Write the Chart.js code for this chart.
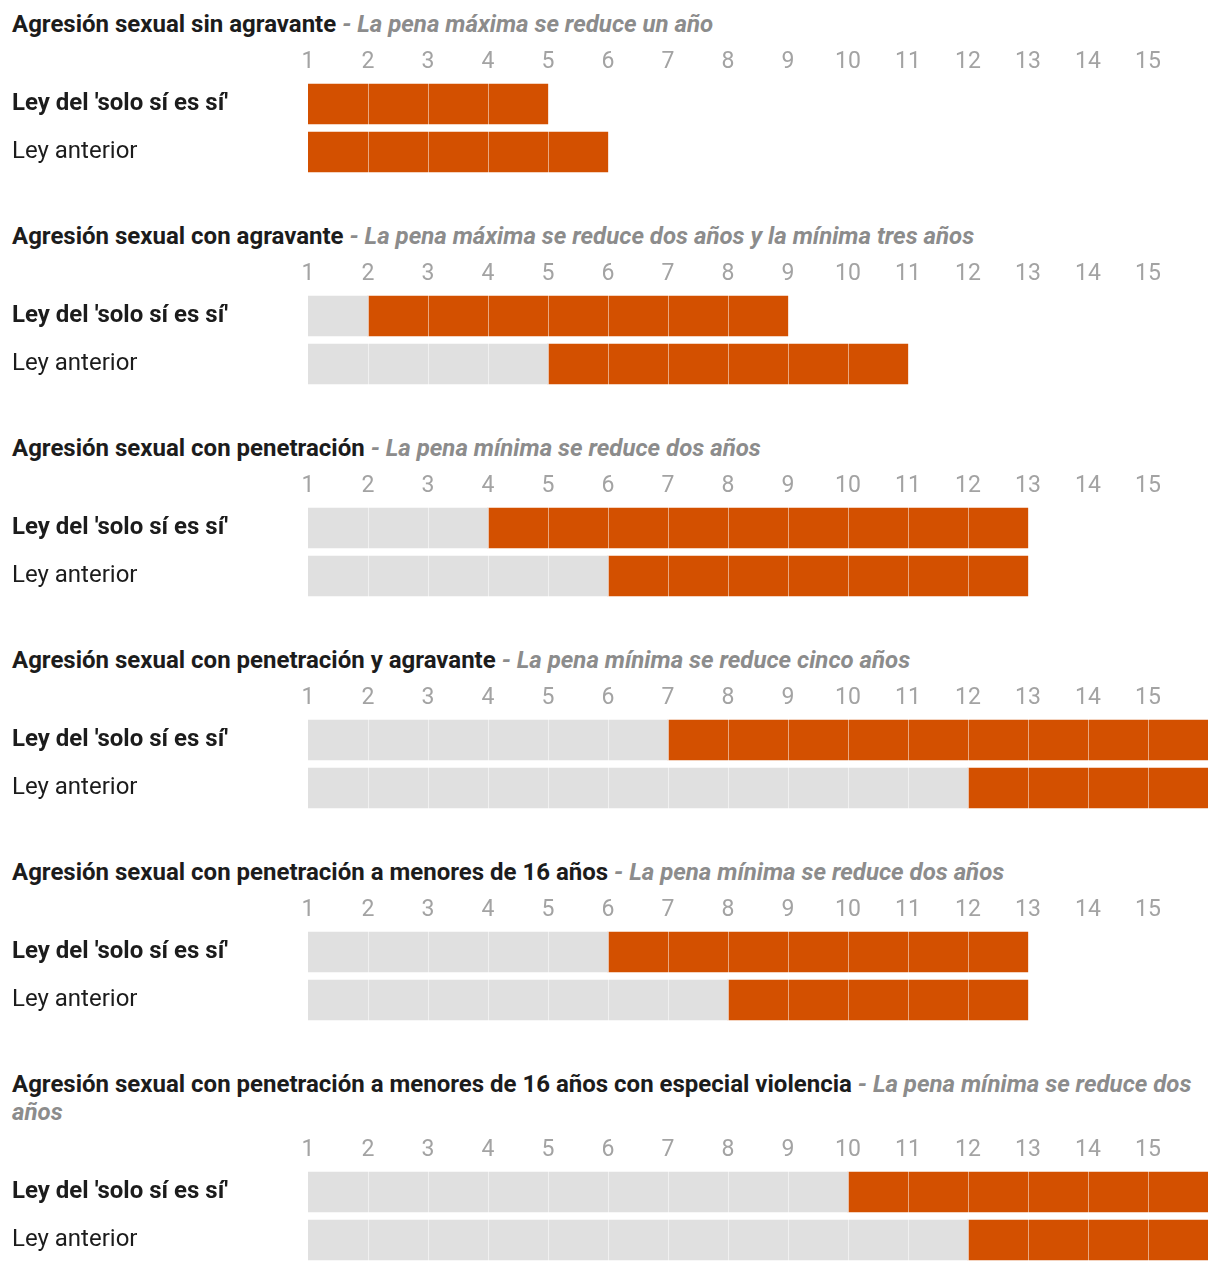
<!DOCTYPE html>
<html>
<head>
<meta charset="utf-8">
<script src="https://cdn.jsdelivr.net/npm/chart.js@4/dist/chart.umd.min.js"></script>
<style>
  html, body { margin: 0; padding: 0; background: #fff; overflow: hidden; }
  body { width: 1220px; height: 1270px; font-family: Roboto, "Noto Sans", sans-serif; }
  #wrap { padding-top: 10px; }
  .title { width: 1196px; padding-left: 12px; font-size: 24px; line-height: 28px; font-weight: bold; color: #1c1c1c; }
  .title .note { font-style: italic; color: #8c8c8c; }
  canvas { display: block; }
</style>
</head>
<body>
<div id="wrap"></div>
<script>
// ---- data ----
const panelTitles = [
  "Agresión sexual sin agravante",
  "Agresión sexual con agravante",
  "Agresión sexual con penetración",
  "Agresión sexual con penetración y agravante",
  "Agresión sexual con penetración a menores de 16 años",
  "Agresión sexual con penetración a menores de 16 años con especial violencia"
];
const panelNotes = [
  "La pena máxima se reduce un año",
  "La pena máxima se reduce dos años y la mínima tres años",
  "La pena mínima se reduce dos años",
  "La pena mínima se reduce cinco años",
  "La pena mínima se reduce dos años",
  "La pena mínima se reduce dos años"
];
const rowLabels = ["Ley del 'solo sí es sí'", "Ley anterior"];
const yearTicks = [1, 2, 3, 4, 5, 6, 7, 8, 9, 10, 11, 12, 13, 14, 15];
const axisStart = 1;
const axisEnd = 16;
// start of the orange range and end of the orange range, per panel
const soloStart = [1, 2, 4, 7, 6, 10];
const soloEnd = [5, 9, 13, 16, 13, 16];
const anteriorStart = [1, 5, 6, 12, 8, 12];
const anteriorEnd = [6, 11, 13, 16, 13, 16];

// ---- styles ----
const ORANGE = '#d35000';
const GRAY = '#e0e0e0';
const wrap = document.getElementById('wrap');

panelTitles.forEach((t, i) => {
  const title = document.createElement('div');
  title.className = 'title';
  title.appendChild(document.createTextNode(t + ' '));
  const note = document.createElement('span');
  note.className = 'note';
  note.textContent = '- ' + panelNotes[i];
  title.appendChild(note);
  wrap.appendChild(title);

  const canvas = document.createElement('canvas');
  canvas.width = 1220;
  canvas.height = 184;
  canvas.style.width = '1220px';
  canvas.style.height = '184px';
  wrap.appendChild(canvas);

  const grayData = [
    soloStart[i] > axisStart ? [axisStart, soloStart[i]] : null,
    anteriorStart[i] > axisStart ? [axisStart, anteriorStart[i]] : null
  ];
  const orangeData = [
    [soloStart[i], soloEnd[i]],
    [anteriorStart[i], anteriorEnd[i]]
  ];

  new Chart(canvas, {
    type: 'bar',
    data: {
      labels: rowLabels,
      datasets: [
        { data: grayData, backgroundColor: GRAY, borderWidth: 0, grouped: false, barThickness: 40 },
        { data: orangeData, backgroundColor: ORANGE, borderWidth: 0, grouped: false, barThickness: 40 }
      ]
    },
    options: {
      indexAxis: 'y',
      responsive: false,
      devicePixelRatio: 1,
      animation: false,
      layout: { padding: { left: 12, right: 12, top: 0, bottom: 46 } },
      plugins: { legend: { display: false }, tooltip: { enabled: false } },
      scales: {
        x: {
          type: 'linear',
          position: 'top',
          min: axisStart,
          max: axisEnd,
          afterBuildTicks: (scale) => {
            scale.ticks = yearTicks.map(v => ({ value: v }));
          },
          afterFit: (scale) => { scale.height = 42; },
          border: { display: false },
          grid: {
            z: 1,
            drawTicks: false,
            lineWidth: 1,
            color: (ctx) => (ctx.tick && ctx.tick.value === axisStart) ? 'rgba(0,0,0,0)' : 'rgba(255,255,255,0.5)'
          },
          ticks: {
            padding: 4,
            color: '#a3a3a3',
            font: { family: 'Roboto', size: 23, weight: 'normal' },
            maxRotation: 0,
            autoSkip: false
          }
        },
        y: {
          position: 'left',
          afterFit: (scale) => { scale.width = 296; },
          border: { display: false },
          grid: { display: false, drawTicks: false },
          ticks: {
            crossAlign: 'far',
            padding: 0,
            color: '#1c1c1c',
            font: (ctx) => ({ family: 'Roboto', size: 24, weight: ctx.index === 0 ? 'bold' : 'normal' })
          }
        }
      }
    }
  });
});
</script>
</body>
</html>
